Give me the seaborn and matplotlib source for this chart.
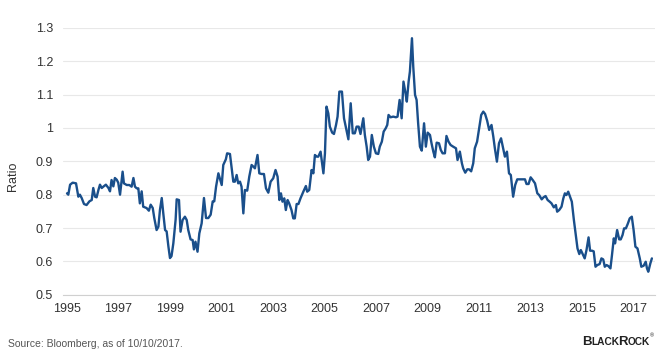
import pandas as pd
import seaborn as sns
import numpy as np
from matplotlib import pyplot as plt

# Decimal year positions and ratio values
years = [
    1995.00, 1995.05, 1995.12, 1995.22, 1995.35, 1995.44, 1995.50, 1995.57, 1995.66, 1995.76,
    1995.87, 1995.96, 1996.02, 1996.09, 1996.15, 1996.22, 1996.28, 1996.35, 1996.41, 1996.51,
    1996.61, 1996.67, 1996.73, 1996.80, 1996.86, 1996.93, 1996.99, 1997.06, 1997.12, 1997.16,
    1997.21, 1997.32, 1997.42, 1997.51, 1997.58, 1997.64, 1997.71, 1997.77, 1997.83, 1997.90,
    1997.96, 1998.09, 1998.18, 1998.25, 1998.33, 1998.39, 1998.48, 1998.55, 1998.61, 1998.68,
    1998.74, 1998.81, 1998.87, 1998.94, 1999.00, 1999.06, 1999.13, 1999.22, 1999.26, 1999.35,
    1999.41, 1999.49, 1999.58, 1999.65, 1999.71, 1999.80, 1999.88, 1999.93, 1999.99, 2000.07,
    2000.14, 2000.23, 2000.32, 2000.40, 2000.49, 2000.58, 2000.66, 2000.72, 2000.79, 2000.88,
    2001.01, 2001.07, 2001.17, 2001.22, 2001.33, 2001.39, 2001.46, 2001.52, 2001.59, 2001.65,
    2001.72, 2001.78, 2001.85, 2001.91, 2002.00, 2002.08, 2002.17, 2002.24, 2002.30, 2002.40,
    2002.47, 2002.56, 2002.65, 2002.73, 2002.82, 2002.91, 2003.01, 2003.10, 2003.18, 2003.25,
    2003.31, 2003.37, 2003.44, 2003.50, 2003.57, 2003.63, 2003.72, 2003.79, 2003.85, 2003.92,
    2003.99, 2004.07, 2004.18, 2004.28, 2004.33, 2004.41, 2004.50, 2004.57, 2004.63, 2004.70,
    2004.76, 2004.85, 2004.96, 2005.02, 2005.08, 2005.15, 2005.21, 2005.30, 2005.37, 2005.45,
    2005.51, 2005.58, 2005.68, 2005.76, 2005.84, 2005.93, 2006.02, 2006.10, 2006.18, 2006.25,
    2006.33, 2006.40, 2006.51, 2006.57, 2006.64, 2006.70, 2006.77, 2006.84, 2006.92, 2007.00,
    2007.09, 2007.15, 2007.23, 2007.30, 2007.38, 2007.44, 2007.49, 2007.57, 2007.67, 2007.78,
    2007.84, 2007.92, 2008.00, 2008.07, 2008.15, 2008.20, 2008.27, 2008.32, 2008.40, 2008.45,
    2008.52, 2008.58, 2008.64, 2008.71, 2008.78, 2008.87, 2008.94, 2009.01, 2009.10, 2009.16,
    2009.23, 2009.29, 2009.36, 2009.45, 2009.52, 2009.59, 2009.68, 2009.74, 2009.82, 2009.90,
    2010.00, 2010.11, 2010.17, 2010.26, 2010.34, 2010.39, 2010.47, 2010.55, 2010.62, 2010.70,
    2010.78, 2010.84, 2010.93, 2011.01, 2011.09, 2011.17, 2011.24, 2011.32, 2011.40, 2011.49,
    2011.56, 2011.62, 2011.70, 2011.78, 2011.86, 2011.93, 2012.01, 2012.09, 2012.17, 2012.24,
    2012.33, 2012.41, 2012.49, 2012.59, 2012.70, 2012.79, 2012.85, 2012.93, 2013.01, 2013.09,
    2013.18, 2013.27, 2013.34, 2013.44, 2013.51, 2013.59, 2013.67, 2013.75, 2013.82, 2013.91,
    2013.99, 2014.04, 2014.12, 2014.21, 2014.28, 2014.34, 2014.40, 2014.47, 2014.53, 2014.61,
    2014.69, 2014.77, 2014.83, 2014.90, 2014.96, 2015.02, 2015.11, 2015.18, 2015.26, 2015.32,
    2015.40, 2015.46, 2015.53, 2015.60, 2015.69, 2015.76, 2015.83, 2015.89, 2015.96, 2016.03,
    2016.11, 2016.17, 2016.24, 2016.29, 2016.37, 2016.45, 2016.51, 2016.58, 2016.64, 2016.71,
    2016.78, 2016.86, 2016.94, 2017.01, 2017.08, 2017.16, 2017.25, 2017.31, 2017.40, 2017.48,
    2017.53, 2017.58, 2017.66, 2017.72,
]
ratio = [
    0.804, 0.800, 0.830, 0.836, 0.834, 0.794, 0.800, 0.790, 0.772, 0.769,
    0.780, 0.784, 0.820, 0.794, 0.792, 0.814, 0.830, 0.820, 0.824, 0.830,
    0.820, 0.810, 0.844, 0.825, 0.850, 0.845, 0.836, 0.800, 0.840, 0.869,
    0.834, 0.829, 0.829, 0.824, 0.850, 0.824, 0.819, 0.819, 0.774, 0.810,
    0.764, 0.760, 0.752, 0.770, 0.760, 0.730, 0.694, 0.704, 0.754, 0.790,
    0.744, 0.694, 0.690, 0.644, 0.610, 0.616, 0.654, 0.726, 0.786, 0.784,
    0.689, 0.724, 0.734, 0.724, 0.694, 0.666, 0.664, 0.636, 0.659, 0.629,
    0.684, 0.714, 0.790, 0.730, 0.730, 0.740, 0.780, 0.780, 0.824, 0.864,
    0.829, 0.889, 0.906, 0.924, 0.922, 0.884, 0.839, 0.839, 0.859, 0.834,
    0.839, 0.824, 0.744, 0.814, 0.812, 0.854, 0.889, 0.884, 0.879, 0.919,
    0.864, 0.862, 0.862, 0.819, 0.806, 0.839, 0.849, 0.874, 0.854, 0.784,
    0.804, 0.779, 0.789, 0.754, 0.784, 0.774, 0.754, 0.729, 0.729, 0.772,
    0.772, 0.789, 0.809, 0.826, 0.809, 0.814, 0.874, 0.864, 0.919, 0.914,
    0.914, 0.929, 0.864, 0.924, 1.064, 1.044, 1.004, 0.986, 0.982, 1.009,
    1.034, 1.109, 1.109, 1.029, 0.999, 0.966, 1.074, 0.984, 0.984, 1.004,
    1.004, 0.982, 1.029, 0.979, 0.944, 0.904, 0.914, 0.979, 0.944, 0.924,
    0.922, 0.944, 0.959, 0.989, 0.999, 1.009, 1.039, 1.032, 1.034, 1.032,
    1.034, 1.084, 1.029, 1.139, 1.104, 1.079, 1.139, 1.169, 1.269, 1.184,
    1.099, 1.084, 1.014, 0.944, 0.932, 1.014, 0.944, 0.986, 0.979, 0.954,
    0.929, 0.912, 0.956, 0.954, 0.934, 0.924, 0.924, 0.976, 0.959, 0.949,
    0.944, 0.939, 0.904, 0.929, 0.894, 0.879, 0.866, 0.876, 0.876, 0.870,
    0.894, 0.939, 0.959, 0.999, 1.039, 1.049, 1.042, 1.022, 0.994, 1.009,
    0.974, 0.939, 0.899, 0.954, 0.969, 0.944, 0.914, 0.929, 0.864, 0.859,
    0.794, 0.829, 0.846, 0.846, 0.846, 0.846, 0.832, 0.832, 0.852, 0.844,
    0.834, 0.804, 0.799, 0.786, 0.792, 0.796, 0.784, 0.779, 0.774, 0.762,
    0.769, 0.749, 0.754, 0.764, 0.789, 0.804, 0.799, 0.809, 0.796, 0.779,
    0.724, 0.674, 0.639, 0.622, 0.634, 0.624, 0.609, 0.634, 0.672, 0.632,
    0.632, 0.630, 0.584, 0.589, 0.592, 0.609, 0.606, 0.584, 0.589, 0.586,
    0.579, 0.619, 0.669, 0.654, 0.694, 0.666, 0.666, 0.679, 0.699, 0.699,
    0.712, 0.729, 0.734, 0.694, 0.644, 0.639, 0.609, 0.584, 0.587, 0.599,
    0.579, 0.569, 0.594, 0.609,
]
xtick_years = list(range(1995, 2018, 2))
ytick_vals = [0.5, 0.6, 0.7, 0.8, 0.9, 1.0, 1.1, 1.2, 1.3]
ytick_labels = ["0.5", "0.6", "0.7", "0.8", "0.9", "1", "1.1", "1.2", "1.3"]

df = pd.DataFrame({"year": years, "ratio": ratio})

sns.set_theme(style="white")
plt.rcParams["font.family"] = ["Liberation Sans", "DejaVu Sans"]

fig = plt.figure(figsize=(6.62, 3.53), dpi=100)
ax = fig.add_axes([0.095, 0.165, 0.894, 0.756])

sns.lineplot(data=df, x="year", y="ratio", ax=ax, color="#1a4f8b", linewidth=1.7)

ax.set_xlim(1994.84, 2017.83)
ax.set_ylim(0.5, 1.3)
ax.set_yticks(ytick_vals)
ax.set_yticklabels(ytick_labels)
ax.set_xticks(xtick_years)
ax.set_xticklabels([str(y) for y in xtick_years])
ax.yaxis.grid(True, color="#e8e8e8", linewidth=0.8)
ax.set_axisbelow(True)
for side in ["top", "right", "left"]:
    ax.spines[side].set_visible(False)
ax.spines["bottom"].set_color("#d0d0d0")
ax.spines["bottom"].set_linewidth(0.8)
ax.tick_params(axis="both", length=0, labelsize=9, colors="#333333")
ax.tick_params(axis="x", pad=6)
ax.tick_params(axis="y", pad=7)
ax.set_xlabel("")
ax.set_ylabel("")

fig.text(0.02, 0.50, "Ratio", rotation=90, ha="center", va="center",
         fontsize=9, color="#333333")
fig.text(0.012, 0.012, "Source: Bloomberg, as of 10/10/2017.", ha="left", va="bottom",
         fontsize=7.5, color="#555555")

# small-caps style logo text, pieces placed one after another
renderer = fig.canvas.get_renderer()
logo_x = 0.879
for piece, size, nudge in [("B", 9.5, 0.0), ("LACK", 7.3, -0.002), ("R", 9.5, 0.0),
                           ("OCK", 7.3, 0.0)]:
    t = fig.text(logo_x, 0.022, piece, ha="left", va="baseline", fontsize=size,
                 fontweight="bold", color="#222222")
    logo_x = t.get_window_extent(renderer).x1 / fig.bbox.width + nudge
fig.text(logo_x, 0.045, "®", ha="left", va="baseline", fontsize=4,
         color="#222222")

fig.savefig("out.png", dpi=100)
